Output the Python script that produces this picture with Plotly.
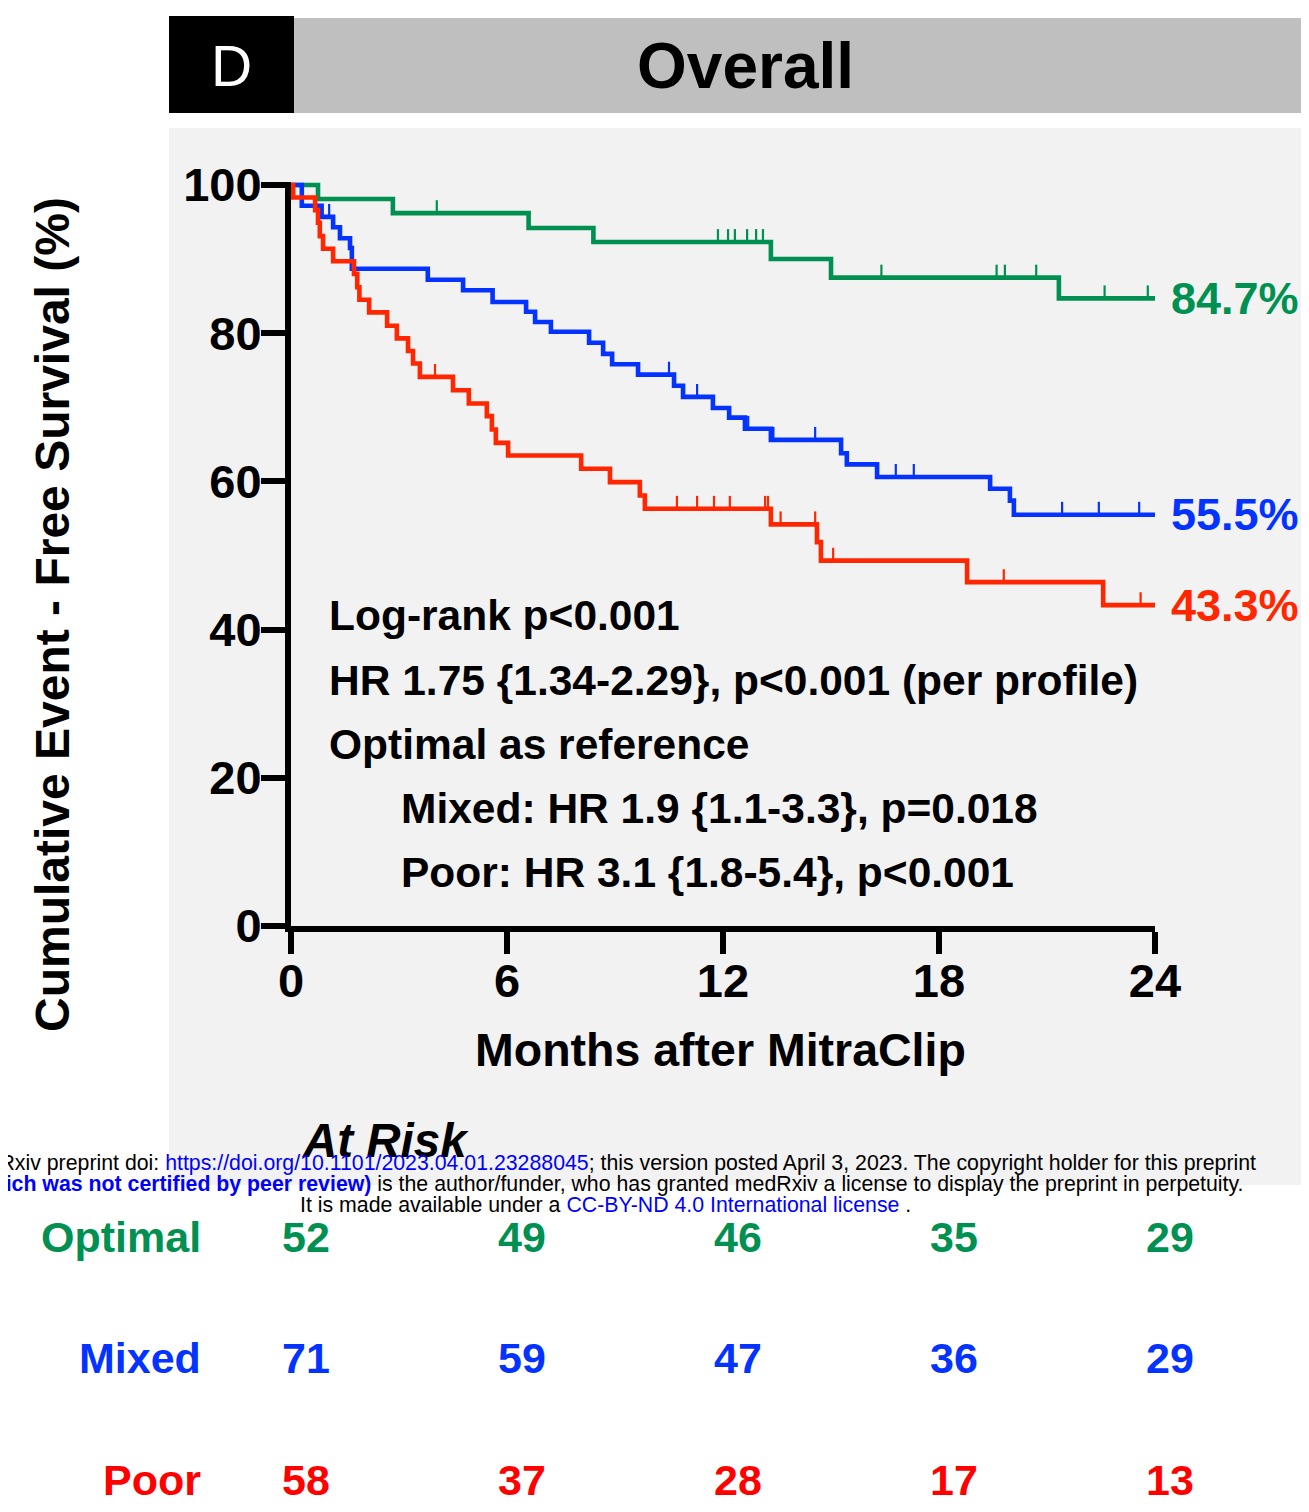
import plotly.graph_objects as go

# ---------------- data ----------------
optimal_times = [0.75, 2.83, 6.6, 8.4, 13.33, 15.0, 21.33]
optimal_surv = [98.1, 96.2, 94.2, 92.3, 90.0, 87.5, 84.7]
optimal_censor = [4.05, 11.86, 12.14, 12.33, 12.67, 12.92, 13.11, 16.4, 19.6, 19.83, 20.7, 22.6, 23.8]

mixed_times = [0.3, 0.85, 1.17, 1.36, 1.64, 1.69, 3.8, 4.78, 5.6, 6.53, 6.78, 7.22, 8.28, 8.67,
               8.92, 9.64, 10.64, 10.89, 11.72, 12.17, 12.61, 13.33, 15.28, 15.44, 16.28, 19.42,
               19.97, 20.08]
mixed_surv = [97.2, 95.7, 94.3, 92.8, 91.5, 88.7, 87.2, 85.8, 84.2, 82.9, 81.5, 80.2, 78.7, 77.2,
              75.8, 74.4, 72.9, 71.4, 69.9, 68.6, 67.1, 65.6, 63.8, 62.3, 60.6, 59.0, 57.4, 55.5]
mixed_censor = [1.06, 10.5, 11.28, 12.7, 13.4, 14.56, 16.8, 17.3, 21.42, 22.44, 23.56]

poor_times = [0.06, 0.67, 0.75, 0.8, 0.89, 1.17, 1.75, 1.84, 1.9, 2.17, 2.67, 2.94, 3.25, 3.39,
              3.58, 4.5, 4.94, 5.44, 5.58, 5.69, 6.03, 8.06, 8.86, 9.69, 9.83, 13.33, 14.61,
              14.72, 18.78, 22.56]
poor_surv = [98.3, 96.6, 94.9, 93.1, 91.4, 89.7, 88.0, 86.2, 84.5, 82.8, 81.0, 79.3, 77.6, 75.9,
             74.1, 72.3, 70.5, 68.8, 67.0, 65.2, 63.5, 61.7, 59.9, 58.1, 56.3, 54.2, 51.8, 49.3,
             46.4, 43.3]
poor_censor = [4.0, 10.72, 11.28, 11.75, 12.19, 13.17, 13.25, 13.6, 14.56, 15.06, 19.8, 23.6]

group_names = ["Optimal", "Mixed", "Poor"]
end_labels = ["84.7%", "55.5%", "43.3%"]
risk_times = [0, 6, 12, 18, 24]
risk_optimal = [52, 49, 46, 35, 29]
risk_mixed = [71, 59, 47, 36, 29]
risk_poor = [58, 37, 28, 17, 13]

x_ticks = [0, 6, 12, 18, 24]
y_ticks = [0, 20, 40, 60, 80, 100]

stats_lines = ["Log-rank p<0.001",
               "HR 1.75 {1.34-2.29}, p<0.001 (per profile)",
               "Optimal as reference",
               "Mixed: HR 1.9 {1.1-3.3}, p=0.018",
               "Poor: HR 3.1 {1.8-5.4}, p<0.001"]

# ---------------- style ----------------
OFF = 8                      # page body margin
W, H = 1309 - OFF, 1512 - 2 * OFF
FONT = "Liberation Sans, Arial, sans-serif"
GREEN = "#009051"
BLUE = "#0433ff"
RED = "#ff2600"
RED_TXT = "#ff0000"
colors = [GREEN, BLUE, RED]
table_colors = [GREEN, BLUE, RED_TXT]


def X(p):
    return (p - OFF) / W


def Y(p):
    return 1 - (p - OFF) / H


def surv_at(times, surv, t):
    v = 100.0
    for ti, si in zip(times, surv):
        if ti <= t:
            v = si
    return v


fig = go.Figure()

series = [(optimal_times, optimal_surv, optimal_censor),
          (mixed_times, mixed_surv, mixed_censor),
          (poor_times, poor_surv, poor_censor)]

for (times, surv, cens), col, name in zip(series, colors, group_names):
    xs = [0] + times + [24]
    ys = [100] + surv + [surv[-1]]
    fig.add_trace(go.Scatter(x=xs, y=ys, mode="lines", line=dict(color=col, width=4.6, shape="hv"),
                             name=name, showlegend=False, hoverinfo="skip"))
    cy = [surv_at(times, surv, t) + 0.8 for t in cens]
    fig.add_trace(go.Scatter(x=cens, y=cy, mode="markers",
                             marker=dict(symbol="line-ns", size=10, line=dict(color=col, width=2.2)),
                             showlegend=False, hoverinfo="skip", cliponaxis=False))

shapes = [
    dict(type="rect", xref="paper", yref="paper", x0=X(169), x1=X(1309), y0=Y(1185), y1=Y(128),
         fillcolor="#f2f2f2", line=dict(width=0), layer="below"),
    dict(type="rect", xref="paper", yref="paper", x0=X(294), x1=X(1309), y0=Y(113), y1=Y(18),
         fillcolor="#bfbfbf", line=dict(width=0), layer="below"),
    dict(type="rect", xref="paper", yref="paper", x0=X(169), x1=X(294), y0=Y(113), y1=Y(16),
         fillcolor="#000000", line=dict(width=0), layer="below"),
]

ann = []


def text_at(xp, yp, text, size, color="black", bold=True, xanchor="center", **kw):
    f = dict(family=FONT, size=size, color=color)
    if bold:
        f["weight"] = "bold"
    d = dict(xref="paper", yref="paper", x=X(xp), y=Y(yp), text=text, showarrow=False,
             xanchor=xanchor, yanchor="middle", font=f)
    d.update(kw)
    ann.append(d)


text_at(231, 66, "D", 57, color="white", bold=False)
text_at(745, 66, "Overall", 64)

# axis titles
text_at(720, 1050, "Months after MitraClip", 46.5)
text_at(52, 615, "Cumulative Event - Free Survival (%)", 48, textangle=-90)

# stats text
stat_x = [327, 327, 327, 399, 399]
stat_y = [615, 680, 744, 808, 872]
for t, sx, sy in zip(stats_lines, stat_x, stat_y):
    text_at(sx, sy, t, 42.5, xanchor="left")

# end labels
for (times, surv, cens), col, lab in zip(series, colors, end_labels):
    ann.append(dict(xref="x", yref="y", x=24, y=surv[-1], text=lab, xanchor="left",
                    yanchor="middle", xshift=14, showarrow=False,
                    font=dict(family=FONT, size=45, color=col, weight="bold")))

# At risk table
text_at(385, 1140, "<i>At Risk</i>", 47.5)
row_y = [1237, 1358, 1480]
for name, vals, col, ry in zip(group_names, [risk_optimal, risk_mixed, risk_poor], table_colors, row_y):
    text_at(203, ry, name, 43, color=col, xanchor="right")
    for t, v in zip(risk_times, vals):
        ann.append(dict(xref="x", yref="paper", x=t, xshift=15, y=Y(ry), text=str(v),
                        xanchor="center", yanchor="middle", showarrow=False,
                        font=dict(family=FONT, size=43, color=col, weight="bold")))

# preprint watermark
LINK = "#0000ff"
PS = 21.3
text_at(1258, 1163,
        "medRxiv preprint doi: <span style='color:%s'>https://doi.org/10.1101/2023.04.01.23288045</span>; "
        "this version posted April 3, 2023. The copyright holder for this preprint" % LINK,
        PS, bold=False, xanchor="right")
text_at(1245, 1184,
        "<span style='color:%s'><b>(which was not certified by peer review)</b></span> is the author/funder, "
        "who has granted medRxiv a license to display the preprint in perpetuity." % LINK,
        PS, bold=False, xanchor="right")
text_at(605, 1205,
        "It is made available under a <span style='color:%s'>CC-BY-ND 4.0 International license</span> ." % LINK,
        PS, bold=False)

fig.update_layout(
    width=W, height=H, autosize=False,
    margin=dict(l=0, r=0, t=0, b=0, pad=0, autoexpand=False),
    paper_bgcolor="white", plot_bgcolor="rgba(0,0,0,0)",
    shapes=shapes, annotations=ann, showlegend=False,
    xaxis=dict(domain=[X(291), X(1155)], range=[0, 24], tickvals=x_ticks, ticks="outside",
               ticklen=22, tickwidth=6, tickcolor="black", showline=True, linewidth=6,
               linecolor="black", showgrid=False, zeroline=False, automargin=False,
               ticklabelstandoff=-13,
               tickfont=dict(family=FONT, size=47, color="black", weight="bold")),
    yaxis=dict(domain=[Y(926), Y(182)], range=[0, 100.4], tickvals=y_ticks, ticks="outside",
               ticklen=24, tickwidth=6, tickcolor="black", showline=True, linewidth=6,
               linecolor="black", showgrid=False, zeroline=False, automargin=False,
               ticklabelstandoff=-10,
               tickfont=dict(family=FONT, size=47, color="black", weight="bold")),
)

fig.write_html("out.html")
